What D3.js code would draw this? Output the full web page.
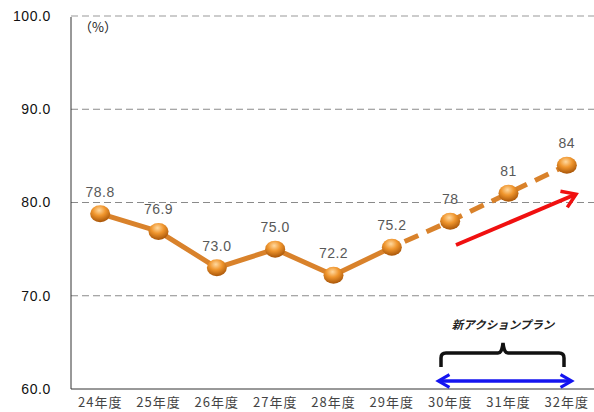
<!DOCTYPE html>
<html>
<head>
<meta charset="utf-8">
<script src="https://cdn.jsdelivr.net/npm/d3@7"></script>
<style>
  body { margin: 0; background: #fff; }
  svg { display: block; }
</style>
</head>
<body>
<div id="chart"></div>
<script>
// data
var years = ["24年度", "25年度", "26年度", "27年度", "28年度", "29年度", "30年度", "31年度", "32年度"];
var actual = [78.8, 76.9, 73.0, 75.0, 72.2, 75.2];
var target = [null, null, null, null, null, 75.2, 78, 81, 84];
var labels = ["78.8", "76.9", "73.0", "75.0", "72.2", "75.2", "78", "81", "84"];
var yTicks = [60, 70, 80, 90, 100];

var width = 594, height = 412;
var svg = d3.select("#chart").append("svg")
    .attr("width", width)
    .attr("height", height);

var defs = svg.append("defs");
var grad = defs.append("radialGradient")
    .attr("id", "ball")
    .attr("cx", "45%").attr("cy", "30%").attr("r", "70%");
grad.append("stop").attr("offset", "0%").attr("stop-color", "#ffd9a0");
grad.append("stop").attr("offset", "45%").attr("stop-color", "#f0962e");
grad.append("stop").attr("offset", "100%").attr("stop-color", "#a85508");

var x = d3.scaleBand()
    .domain(years)
    .range([71, 596]);

var y = d3.scaleLinear()
    .domain([60, 100])
    .range([389, 16]);

// grid lines
svg.append("g")
  .selectAll("line")
  .data(yTicks.filter(function (d) { return d > 60; }))
  .enter().append("line")
    .attr("x1", 71).attr("x2", width)
    .attr("y1", function (d) { return y(d); })
    .attr("y2", function (d) { return y(d); })
    .attr("stroke", function (d) { return d == 100 ? "#999" : "#8a8a8a"; })
    .attr("stroke-width", 1)
    .attr("stroke-dasharray", "7,4");

// axes
var yAxis = svg.append("g")
    .attr("transform", "translate(71,0)")
    .call(d3.axisLeft(y).tickValues(yTicks).tickSize(0).tickPadding(20).tickFormat(d3.format(".1f")));
yAxis.select(".domain").attr("stroke", "#333").attr("d", "M0,17V389");
yAxis.selectAll("text")
    .style("font-family", "Liberation Sans, Arial, sans-serif")
    .style("font-size", "14px")
    .style("letter-spacing", "0.6px")
    .attr("fill", "#111");

var xAxis = svg.append("g")
    .attr("transform", "translate(0,389)")
    .call(d3.axisBottom(x).tickSize(0).tickPadding(9));
xAxis.select(".domain").attr("stroke", "#333").attr("d", "M71,0H" + width);
xAxis.selectAll("text")
    .style("font-family", "Noto Sans CJK JP, sans-serif")
    .style("font-size", "13px")
    .style("letter-spacing", "1px")
    .attr("fill", "#444");

svg.append("text")
    .attr("x", 79).attr("y", 32)
    .style("font-family", "Noto Sans CJK JP, sans-serif")
    .style("font-size", "13px")
    .attr("fill", "#222")
    .text("（%）");

var cx = function (i) { return x(years[i]) + x.bandwidth() / 2; };

// lines
var line = d3.line()
    .defined(function (d) { return d != null; })
    .x(function (d, i) { return cx(i); })
    .y(function (d) { return y(d); });

svg.append("path")
    .datum(target)
    .attr("d", line)
    .attr("fill", "none")
    .attr("stroke", "#d9822b")
    .attr("stroke-width", 5)
    .attr("stroke-dasharray", "15,9")
    .attr("stroke-dashoffset", -14);

svg.append("path")
    .datum(actual)
    .attr("d", line)
    .attr("fill", "none")
    .attr("stroke", "#d9822b")
    .attr("stroke-width", 5)
    .attr("stroke-linejoin", "round");

var allVals = actual.concat(target.slice(6));

svg.append("g")
  .selectAll("ellipse")
  .data(allVals)
  .enter().append("ellipse")
    .attr("cx", function (d, i) { return cx(i); })
    .attr("cy", function (d) { return y(d); })
    .attr("rx", 10)
    .attr("ry", 8.5)
    .attr("fill", "url(#ball)");

svg.append("g")
  .selectAll("text")
  .data(allVals)
  .enter().append("text")
    .attr("x", function (d, i) { return cx(i); })
    .attr("y", function (d) { return y(d) - 17; })
    .attr("text-anchor", "middle")
    .style("font-family", "Liberation Sans, Arial, sans-serif")
    .style("font-size", "14px")
    .style("letter-spacing", "0.5px")
    .attr("fill", "#595959")
    .text(function (d, i) { return labels[i]; });

// red trend arrow
defs.append("marker")
    .attr("id", "redHead")
    .attr("viewBox", "0 0 10 10")
    .attr("refX", 6).attr("refY", 5)
    .attr("markerWidth", 5.5).attr("markerHeight", 5.5)
    .attr("orient", "auto")
  .append("path")
    .attr("d", "M1,1L7,5L1,9")
    .attr("fill", "none")
    .attr("stroke", "#f01010")
    .attr("stroke-width", 1.6);

svg.append("line")
    .attr("x1", 456).attr("y1", 245)
    .attr("x2", 574).attr("y2", 195)
    .attr("stroke", "#f01010")
    .attr("stroke-width", 4)
    .attr("marker-end", "url(#redHead)");

// plan annotation
svg.append("text")
    .attr("x", 503).attr("y", 329)
    .attr("text-anchor", "middle")
    .style("font-family", "Noto Sans CJK JP, sans-serif")
    .style("font-size", "11.5px")
    .style("font-weight", "bold")
    .style("font-style", "italic")
    .attr("fill", "#222")
    .text("新アクションプラン");

svg.append("path")
    .attr("d", "M441,367V358Q441,353 446,353H498Q502,353 503,343Q504,353 508,353H559Q564,353 564,358V367")
    .attr("fill", "none")
    .attr("stroke", "#111")
    .attr("stroke-width", 3.5);

defs.append("marker")
    .attr("id", "blueHead")
    .attr("viewBox", "0 0 10 10")
    .attr("refX", 7).attr("refY", 5)
    .attr("markerWidth", 4.5).attr("markerHeight", 4.5)
    .attr("orient", "auto-start-reverse")
  .append("path")
    .attr("d", "M1,1L8,5L1,9")
    .attr("fill", "none")
    .attr("stroke", "#1414f0")
    .attr("stroke-width", 2);

svg.append("line")
    .attr("x1", 440).attr("y1", 381)
    .attr("x2", 570).attr("y2", 381)
    .attr("stroke", "#1414f0")
    .attr("stroke-width", 3.5)
    .attr("marker-start", "url(#blueHead)")
    .attr("marker-end", "url(#blueHead)");
</script>
</body>
</html>
